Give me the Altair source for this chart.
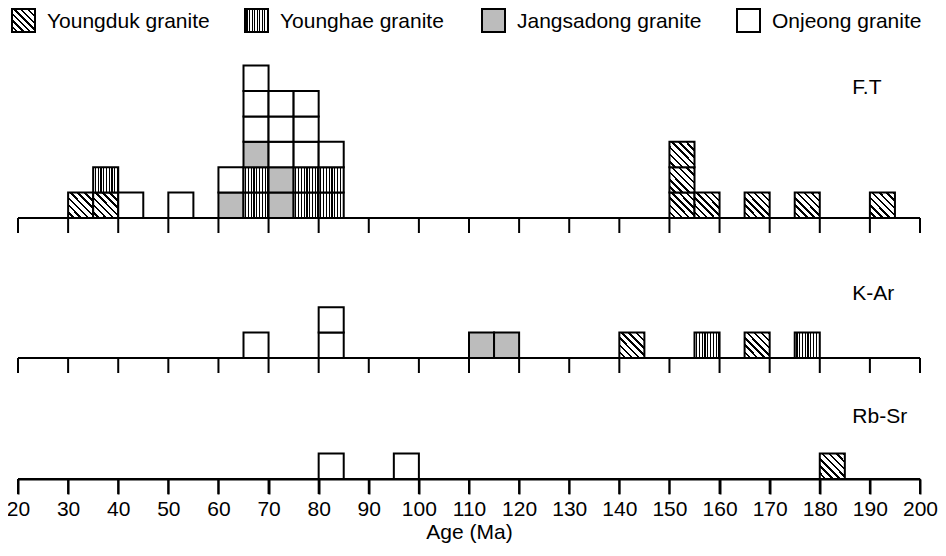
import altair as alt
import pandas as pd

# ---------------- data ----------------
GRANITES = ["Youngduk granite", "Younghae granite", "Jangsadong granite", "Onjeong granite"]
CODE = {"D": GRANITES[0], "H": GRANITES[1], "J": GRANITES[2], "O": GRANITES[3]}
PANELS = ["F.T", "K-Ar", "Rb-Sr"]
TICKS = list(range(20, 201, 10))
BIN = 5  # Ma, width of each box

# start age of each 5-Ma bin and the stack of samples (bottom -> top)
FT_START = [30, 35, 40, 50, 60, 65, 70, 75, 80, 150, 155, 165, 175, 190]
FT_STACK = ["D", "DH", "O", "O", "JO", "HHJOOO", "JJOOO", "HHOOO", "HHO", "DDD", "D", "D", "D", "D"]
KAR_START = [65, 80, 110, 115, 140, 155, 165, 175]
KAR_STACK = ["O", "OO", "J", "J", "D", "H", "D", "H"]
RB_START = [80, 95, 180]
RB_STACK = ["O", "O", "D"]

# ---------------- layout ----------------
FONT = "Liberation Sans"
W, H = 902, 471
PAD = {"left": 10, "top": 0, "right": 18, "bottom": 69}
ROW = 25.4                                   # px per stacked sample
BASE = {"F.T": 210, "K-Ar": 350, "Rb-Sr": 471}   # baseline px from plot top
LABEL_ROW = {"F.T": 4.9, "K-Ar": 2.3, "Rb-Sr": 2.2}
LABEL_AGE = 186.5
LEG_X = [-6, 227, 464, 719]                  # legend box left (px)
LEG_BOX = 23

def stripes(n, frac, x1, y1, x2, y2):
    stops = []
    for i in range(n):
        a, m, b = i / n, (i + 1 - frac) / n, (i + 1) / n
        stops += [{"offset": a, "color": "white"}, {"offset": m, "color": "white"},
                  {"offset": m, "color": "black"}, {"offset": b, "color": "black"}]
    return {"gradient": "linear", "x1": x1, "y1": y1, "x2": x2, "y2": y2, "stops": stops}

FILL = {
    GRANITES[0]: stripes(7, 0.35, 0, 1, 1, 0),
    GRANITES[1]: stripes(9, 0.42, 0, 0, 1, 0),
    GRANITES[2]: "#bcbcbc",
}
fill_enc = {"condition": [{"test": f"datum.g === '{g}'", "value": FILL[g]} for g in GRANITES[:3]],
            "value": "white"}

XS = alt.Scale(domain=[20, 200], nice=False, zero=False)
AX = alt.Axis(values=TICKS, title="Age (Ma)", format="d", grid=False,
              domainColor="black", domainWidth=2, tickColor="black", tickWidth=2, tickSize=15,
              labelFont=FONT, labelFontSize=21, labelColor="black", labelPadding=4,
              labelFlush=False, labelOverlap=False,
              titleFont=FONT, titleFontSize=21, titleFontWeight="normal", titleColor="black",
              titlePadding=2)

src = {"F.T": (FT_START, FT_STACK), "K-Ar": (KAR_START, KAR_STACK), "Rb-Sr": (RB_START, RB_STACK)}


def panel(p):
    starts, stacks = src[p]
    recs = []
    for s, st in zip(starts, stacks):
        for r, c in enumerate(st):
            recs.append({"x0": s, "x1": s + BIN, "y0": r, "y1": r + 1, "g": CODE[c]})
    df = pd.DataFrame(recs)
    ys = alt.Scale(domain=[-(H - BASE[p]) / ROW, BASE[p] / ROW], nice=False, zero=False)

    base = alt.Chart(pd.DataFrame({"a": [TICKS[0]], "b": [TICKS[-1]], "z": [0]})).mark_rule(
        color="black", strokeWidth=2).encode(
        x=alt.X("a:Q", scale=XS, axis=AX), x2="b:Q", y=alt.Y("z:Q", scale=ys, axis=None))
    ticks = alt.Chart(pd.DataFrame({"t": TICKS, "z": 0})).mark_rule(
        color="black", strokeWidth=2, y2Offset=15).encode(
        x=alt.X("t:Q", scale=XS, axis=AX), y=alt.Y("z:Q", scale=ys, axis=None), y2="z:Q")
    boxes = alt.Chart(df).mark_rect(stroke="black", strokeWidth=2).encode(
        x=alt.X("x0:Q", scale=XS, axis=AX), x2="x1:Q",
        y=alt.Y("y0:Q", scale=ys, axis=None), y2="y1:Q",
        fill=fill_enc)
    label = alt.Chart(pd.DataFrame({"x": [LABEL_AGE], "y": [LABEL_ROW[p]], "s": [p]})).mark_text(
        font=FONT, fontSize=21, color="black", align="left", baseline="alphabetic").encode(
        x=alt.X("x:Q", scale=XS, axis=AX), y=alt.Y("y:Q", scale=ys, axis=None), text="s:N")
    return alt.layer(base, ticks, boxes, label)


panels = alt.layer(*[panel(p) for p in PANELS]).resolve_scale(y="independent")

leg = pd.DataFrame({"g": GRANITES, "lx": LEG_X, "lx2": [v + LEG_BOX for v in LEG_X],
                    "tx": [v + LEG_BOX + 12 for v in LEG_X]})
leg_boxes = alt.Chart(leg).mark_rect(stroke="black", strokeWidth=2).encode(
    x=alt.X("lx:Q", scale=None, axis=None), x2="lx2:Q",
    y=alt.value(1), y2=alt.value(1 + LEG_BOX), fill=fill_enc)
leg_text = alt.Chart(leg).mark_text(font=FONT, fontSize=21, color="black", align="left",
                                    baseline="alphabetic").encode(
    x=alt.X("tx:Q", scale=None, axis=None), y=alt.value(20), text="g:N")

chart = alt.layer(leg_boxes, leg_text, panels).resolve_scale(
    x="independent", y="independent").properties(
    width=W, height=H, padding=PAD, autosize=alt.AutoSizeParams(type="none"),
    background="white").configure_view(stroke=None)

chart.save("out.html", embed_options={"renderer": "svg", "actions": False})
